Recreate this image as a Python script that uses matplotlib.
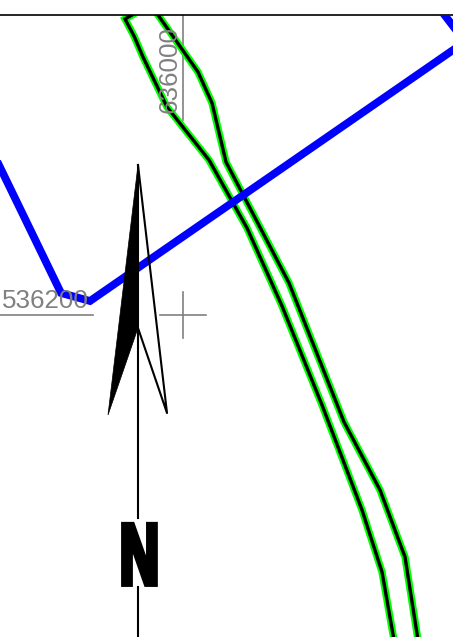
from matplotlib import pyplot as plt
from matplotlib import patheffects as pe
from matplotlib.transforms import Affine2D

# map traces (image pixels, y down)
left_x = [132, 125, 134, 143, 167, 209, 247, 282, 322, 362, 382, 394]
left_y = [15, 19, 36, 57, 107, 160, 228, 306, 405, 510, 572, 640]
right_x = [158, 198, 212, 226, 289, 344, 380, 405, 418]
right_y = [15, 72, 103, 162, 283, 422, 490, 557, 640]

blue_x = [-3, 61, 90, 456]
blue_y = [161, 293, 301, 48]
corner_x = [443, 456]
corner_y = [13, 30]

grid_x = [0, 93]
grid_y = [315, 315]
grid_vx = [183, 183]
grid_vy = [15, 120]
cross_x = 183
cross_y = 315
cross_size = 23

arrow_fill_x = [138, 108, 138]
arrow_fill_y = [165, 415, 328]
arrow_open_x = [138, 167, 138]
arrow_open_y = [165, 413, 328]

W, H = 453, 637
TOP = 15


class Squeezed(pe.Stroke):
    # narrow the bold N around its centre, the drawing uses a condensed letter
    def __init__(self, centre, factor, **kwargs):
        super().__init__(**kwargs)
        self.centre = centre
        self.factor = factor

    def draw_path(self, renderer, gc, tpath, affine, rgbFace):
        squeeze = Affine2D().translate(-self.centre, 0).scale(self.factor, 1).translate(self.centre, 0)
        super().draw_path(renderer, gc, tpath, affine + squeeze, rgbFace)


fig = plt.figure(figsize=(W / 100, H / 100), dpi=100)
ax = fig.add_axes([0, 0, 1, (H - TOP) / H])
ax.set_xlim(0, W)
ax.set_ylim(H, TOP)
for name in ["left", "right", "bottom"]:
    ax.spines[name].set_visible(False)
ax.spines["top"].set_linewidth(1.2)
ax.set_xticks([])
ax.set_yticks([])

# gray grid labels
gray = "#808080"
ax.plot(grid_x, grid_y, color=gray, lw=1.2, zorder=1)
ax.plot(grid_vx, grid_vy, color=gray, lw=1.2, zorder=1)
ax.plot([cross_x - cross_size, cross_x + cross_size], [cross_y, cross_y], color=gray, lw=1.2, zorder=1)
ax.plot([cross_x, cross_x], [cross_y - cross_size, cross_y + cross_size], color=gray, lw=1.2, zorder=1)

# green casing with black centre
for xs, ys in [(left_x, left_y), (right_x, right_y)]:
    ax.plot(xs, ys, color="#00ff00", lw=5.3, solid_joinstyle="miter", zorder=2)
    ax.plot(xs, ys, color="black", lw=2.4, solid_joinstyle="miter", zorder=3)

ax.plot(blue_x, blue_y, color="#0000ff", lw=5.6, solid_joinstyle="miter", zorder=4)
ax.plot(corner_x, corner_y, color="#0000ff", lw=5.6, zorder=4)

ax.text(2, 301, "536200", color=gray, fontsize=18.7, family="Liberation Sans",
        ha="left", va="center", zorder=5)
ax.text(170, 70, "636000", color=gray, fontsize=18.7, family="Liberation Sans",
        rotation=90, ha="center", va="center", zorder=5)

# north arrow
ax.plot([138, 138], [165, 518], color="black", lw=1.5, zorder=6)
ax.plot([138, 138], [587, H], color="black", lw=1.5, zorder=6)
ax.fill(arrow_fill_x, arrow_fill_y, color="black", lw=0.5, zorder=6)
ax.plot(arrow_open_x, arrow_open_y, color="black", lw=1.5, zorder=6)
centre_px = ax.transData.transform((139.5, 553))[0]
n_label = ax.text(139.5, 553, "N", color="black", fontsize=63, fontweight="bold",
                  family="Liberation Sans", ha="center", va="center_baseline", zorder=7)
n_label.set_path_effects([Squeezed(centre_px, 0.62, linewidth=3.5, foreground="black", joinstyle="miter")])

fig.savefig("out.png", dpi=100)
plt.close(fig)
